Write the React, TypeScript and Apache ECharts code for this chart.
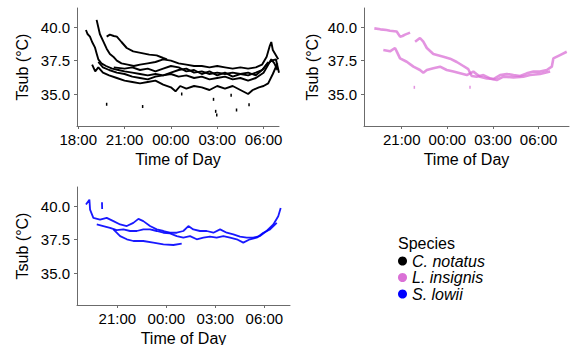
import React, { useEffect, useRef } from "react";
import * as echarts from "echarts";

// ---------- data (hours counted from midnight of the first day; 30 = 06:00 next day) ----------
const speciesNames = ["C. notatus", "L. insignis", "S. lowii"];
const speciesColors = ["#000000", "#DA70D6", "#0000FF"];
const tempTicks = [35, 37.5, 40];
const timeTicksTop = [18, 21, 24, 27, 30];
const timeTicks = [21, 24, 27, 30];

// C. notatus tracks
const notatusA = [[18.5,39.8],[18.6,39.5],[18.76,39.3],[18.9,38.9],[19.08,38.5],[19.2,38.0],[19.3,37.6],[19.5,37.3],[19.8,37.1],[20.2,36.9],[20.6,36.8],[21.0,36.7],[21.5,36.6],[22.0,36.5],[22.5,36.4],[23.0,36.5],[23.5,36.4],[24.0,36.5],[24.5,36.3],[25.0,36.4],[25.5,36.2],[26.0,36.3],[26.5,36.1],[27.0,36.2],[27.5,36.3],[28.0,36.1],[28.5,36.2],[29.0,36.0],[29.5,36.2],[30.0,36.6],[30.3,37.2],[30.5,37.6],[30.7,37.3],[30.9,36.8]];
const notatusB = [[19.19,40.56],[19.3,40.0],[19.4,39.5],[19.6,39.0],[19.84,38.4],[20.05,38.0],[20.27,37.8],[20.5,37.5],[20.8,37.3],[21.2,37.2],[21.6,37.1],[22.0,37.2],[22.5,37.3],[23.0,37.4],[23.5,37.6],[24.0,37.5],[24.5,37.3],[25.0,37.2],[25.5,37.1],[26.0,37.1],[26.5,37.0],[27.0,37.1],[27.5,37.0],[28.0,36.9],[28.5,37.0],[29.0,36.9],[29.5,37.0],[29.9,37.2],[30.2,37.8],[30.4,38.6],[30.5,38.9],[30.6,38.3],[30.8,37.9],[30.95,37.6]];
const notatusC = [[19.84,39.3],[20.05,39.45],[20.3,39.35],[20.5,39.3],[20.8,38.9],[21.14,38.45],[21.56,38.2],[22.2,38.05],[22.6,37.95],[23.08,37.9],[23.5,37.7],[23.75,37.6]];
const notatusD = [[18.9,37.2],[19.1,36.7],[19.3,37.0],[19.6,36.6],[20.0,36.4],[20.5,36.2],[21.0,36.0],[21.5,35.9],[22.0,35.8],[22.5,35.9],[23.0,36.0],[23.5,35.7],[24.0,35.5],[24.3,35.2],[24.6,35.6],[25.0,35.4],[25.5,35.6],[26.0,35.5],[26.5,35.3],[27.0,35.6],[27.5,35.4],[28.0,35.6],[28.5,35.3],[29.0,35.0],[29.3,35.3],[29.7,35.5],[30.0,35.6],[30.3,35.8],[30.6,36.5],[30.9,37.3]];
const notatusE = [[19.3,37.4],[19.6,37.0],[20.0,36.8],[20.5,36.6],[21.0,36.5],[21.5,36.3],[22.0,36.2],[22.5,36.1],[23.0,36.3],[23.5,36.4],[24.0,36.6],[24.5,36.8],[25.0,36.9],[25.5,36.6],[26.0,36.7],[26.5,36.5],[27.0,36.6],[27.5,36.5],[28.0,36.6],[28.5,36.5],[29.0,36.4],[29.5,36.6],[29.9,36.8],[30.2,37.2],[30.5,37.5],[30.8,37.6],[31.0,36.6]];
const notatusF = [[20.3,37.0],[21.0,36.9],[21.5,37.0],[22.0,36.8],[22.5,36.9],[23.0,36.7],[23.5,36.9],[24.0,37.1],[24.5,37.0],[25.0,36.7],[25.5,36.8],[26.0,36.5],[26.5,36.7],[27.0,36.4],[27.5,36.6],[28.0,36.3],[28.5,36.5],[29.0,36.6],[29.5,36.4],[30.0,36.9],[30.3,37.4]];
const notatusOutliers = [[19.84,34.23],[22.17,34.06],[26.97,33.43],[26.9,33.7],[26.76,34.6],[28.25,33.8],[29.06,34.2],[24.7,35.0],[27.9,34.9]];

// L. insignis tracks
const insignisA = [[19.2,39.92],[19.6,39.85],[20.0,39.8],[20.23,39.75],[20.67,39.69],[20.89,39.3],[21.05,39.35],[21.22,39.45],[21.55,39.6]];
const insignisB = [[21.88,38.92],[22.2,39.2],[22.42,38.92],[22.65,38.45],[23.08,38.0],[23.74,37.8],[24.18,37.65],[24.62,37.4],[25.05,37.1],[25.38,36.86],[25.6,36.35],[25.93,36.3],[26.37,36.42],[26.81,36.17],[27.25,36.05],[27.69,36.3],[28.35,36.25],[29.0,36.3],[29.44,36.42],[30.1,36.5],[30.76,36.68]];
const insignisC = [[19.79,38.3],[20.23,38.2],[20.56,38.45],[20.67,38.2],[20.89,37.67],[21.33,37.42],[21.77,37.05],[22.2,36.8],[22.42,36.6],[22.65,36.8],[23.08,36.93],[23.52,37.05],[23.96,36.8],[24.4,36.68],[24.84,36.55],[25.28,36.42],[25.71,36.68],[26.15,36.3],[26.59,36.17],[27.03,36.12],[27.47,36.42],[27.91,36.5],[28.35,36.42],[28.78,36.35],[29.22,36.55],[29.66,36.68],[30.1,36.68],[30.54,36.8],[30.87,37.05],[30.97,37.67],[31.41,37.92],[31.85,38.17]];
const insignisOutliers = [[21.83,35.5],[25.49,35.5]];

// S. lowii tracks
const lowiiA = [[19.08,40.13],[19.29,40.5],[19.33,39.75],[19.53,39.13],[19.94,39.0],[20.35,39.13],[20.76,38.89],[21.17,38.64],[21.58,38.52],[21.98,38.76],[22.29,39.06],[22.59,38.89],[23.0,38.52],[23.41,38.27],[23.82,38.15],[24.22,38.02],[24.64,38.02],[25.04,38.15],[25.35,38.52],[25.65,38.27],[26.06,38.15],[26.47,38.15],[26.88,38.02],[27.29,38.27],[27.7,38.02],[28.1,37.9],[28.51,37.73],[28.92,37.65],[29.32,37.65],[29.73,37.77],[30.14,38.15],[30.55,38.64],[30.85,39.26],[31.0,39.88]];
const lowiiB = [[19.74,38.64],[20.14,38.52],[20.55,38.39],[20.96,38.22],[21.37,38.27],[21.78,38.15],[22.19,38.15],[22.59,38.27],[23.0,38.27],[23.41,38.15],[23.82,38.02],[24.22,37.97],[24.64,37.77],[25.04,37.65],[25.45,37.77],[25.86,37.53],[26.27,37.65],[26.67,37.73],[27.08,37.65],[27.49,37.77],[27.9,37.65],[28.31,37.53],[28.71,37.28],[29.12,37.53],[29.53,37.65],[29.94,38.02],[30.35,38.27],[30.76,38.76]];
const lowiiC = [[20.76,38.27],[21.17,37.77],[21.58,37.53],[21.98,37.4],[22.59,37.4],[23.2,37.28],[23.82,37.15],[24.43,37.1],[24.94,37.2]];
const lowiiD = [[20.06,40.3],[20.07,39.8]];

const tracks = [
  [notatusA, notatusB, notatusC, notatusD, notatusE, notatusF],
  [insignisA, insignisB, insignisC],
  [lowiiA, lowiiB, lowiiC, lowiiD],
];
const outliers = [notatusOutliers, insignisOutliers, []];

const FONT = "Liberation Sans, Arial, Helvetica, sans-serif";

function fmtTime(v: number) {
  const h = Math.round(v) % 24;
  return (h < 10 ? "0" : "") + h + ":00";
}

export default function App() {
  const ref = useRef<HTMLDivElement>(null);
  useEffect(() => {
    if (!ref.current) return;
    const chart = echarts.init(ref.current, undefined, { renderer: "svg" });

    const grids = [
      { left: 77, top: 8, width: 202, height: 118 },
      { left: 364, top: 8, width: 205, height: 118 },
      { left: 77, top: 187, width: 213, height: 118 },
    ];
    const xRanges = [
      [17.92, 31.0],
      [18.52, 32.0],
      [18.53, 31.57],
    ];
    const xTickSets = [timeTicksTop, timeTicks, timeTicks];
    const axisLine = { show: true, lineStyle: { color: "#6b6b6b", width: 1 } };
    const axisTick = (vals: number[]) => ({ show: true, length: 3, lineStyle: { color: "#6b6b6b" }, customValues: vals });

    const xAxis = grids.map((_, i) => ({
      type: "value",
      gridIndex: i,
      min: xRanges[i][0],
      max: xRanges[i][1],
      axisLine,
      axisTick: axisTick(xTickSets[i]),
      splitLine: { show: false },
      axisLabel: {
        customValues: xTickSets[i],
        formatter: (v: number) => fmtTime(v),
        color: "#000",
        fontSize: 15,
        fontFamily: FONT,
        margin: 6,
      },
    }));
    const yAxis = grids.map((_, i) => ({
      type: "value",
      gridIndex: i,
      min: 32.6,
      max: 41.45,
      axisLine,
      axisTick: axisTick(tempTicks),
      splitLine: { show: false },
      axisLabel: {
        customValues: tempTicks,
        formatter: (v: number) => v.toFixed(1),
        color: "#000",
        fontSize: 15,
        fontFamily: FONT,
        margin: 7,
      },
    }));

    const widths = [1.9, 2.6, 1.8];
    const opac = [1, 0.75, 0.9];
    const series: any[] = [];
    tracks.forEach((list, i) => {
      list.forEach((d) => {
        series.push({
          type: "line",
          name: speciesNames[i],
          xAxisIndex: i,
          yAxisIndex: i,
          data: d,
          showSymbol: false,
          symbol: "none",
          silent: true,
          lineStyle: { color: speciesColors[i], width: widths[i], opacity: opac[i] },
          itemStyle: { color: speciesColors[i] },
        });
      });
      if (outliers[i].length) {
        series.push({
          type: "scatter",
          name: speciesNames[i],
          xAxisIndex: i,
          yAxisIndex: i,
          data: outliers[i],
          symbol: "rect",
          symbolSize: [1.5, 3],
          silent: true,
          itemStyle: { color: speciesColors[i], opacity: opac[i] },
        });
      }
    });

    const titleStyle = { font: `16px ${FONT}`, fill: "#000", align: "center", verticalAlign: "middle" };
    const xTitles = [
      [178, 159],
      [466.5, 159],
      [183.5, 338],
    ];
    const yTitles = [
      [22, 67],
      [312, 67],
      [22, 246],
    ];
    const graphic: any[] = [];
    xTitles.forEach(([x, y]) => graphic.push({ type: "text", x, y, style: { ...titleStyle, text: "Time of Day" } }));
    yTitles.forEach(([x, y]) =>
      graphic.push({ type: "text", x, y, rotation: Math.PI / 2, style: { ...titleStyle, text: "Tsub (°C)" } })
    );
    graphic.push({
      type: "text",
      x: 398,
      y: 243,
      style: { font: `16px ${FONT}`, fill: "#000", align: "left", verticalAlign: "middle", text: "Species" },
    });

    chart.setOption({
      animation: false,
      backgroundColor: "#ffffff",
      grid: grids,
      xAxis,
      yAxis,
      series,
      graphic,
      legend: {
        data: speciesNames.map((n) => ({ name: n, icon: "circle" })),
        orient: "vertical",
        left: 398,
        top: 253,
        padding: 0,
        itemWidth: 9,
        itemHeight: 9,
        itemGap: 0.5,
        selectedMode: false,
        textStyle: { fontSize: 16, fontStyle: "italic", fontFamily: FONT, color: "#000", lineHeight: 15 },
      },
    });
    return () => chart.dispose();
  }, []);

  return (
    <div
      ref={ref}
      style={{ position: "fixed", left: 0, top: 0, width: 575, height: 345, background: "#fff" }}
    />
  );
}
